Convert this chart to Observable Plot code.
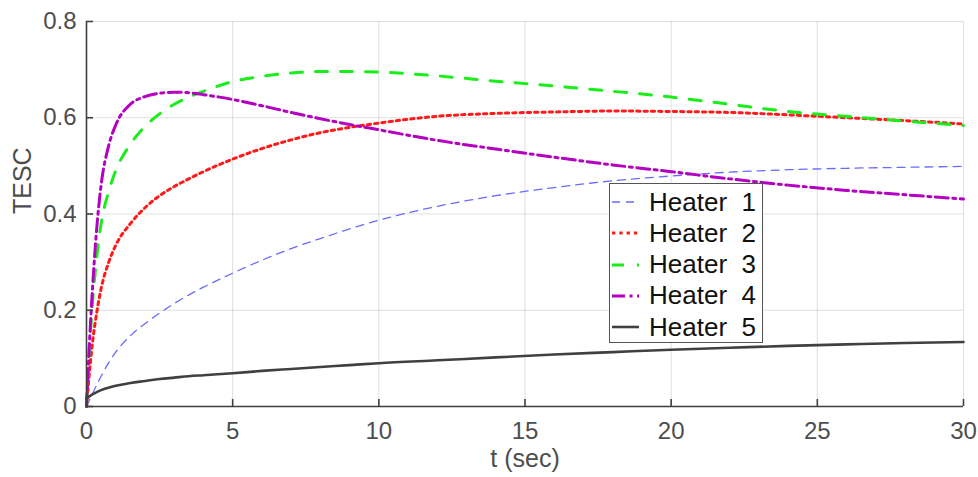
<!DOCTYPE html>
<html><head><meta charset="utf-8">
<script src="https://cdn.jsdelivr.net/npm/d3@7"></script>
<script src="https://cdn.jsdelivr.net/npm/@observablehq/plot@0.6"></script>
<style>
html,body{margin:0;padding:0;background:#fff;}
#wrap{position:relative;width:978px;height:477px;}
#legend{position:absolute;left:609px;top:183px;width:154px;height:160px;border:1px solid #555;background:#fff;box-sizing:border-box;font-family:"Liberation Sans",Arial,sans-serif;font-size:26px;color:#111;}
.row{position:absolute;left:0;height:30px;display:flex;align-items:center;white-space:pre;}
.row svg{display:block;margin-left:2px;margin-right:10px;}
</style></head><body><div id="wrap"><div id="legend"></div></div>
<script>
const t =       [0,    0.1,  0.2,  0.35, 0.5,  0.75, 1,    1.5,  2,    2.5,  3,    3.5,  4,    5,    6,    7,    8,    9,    10,   12,   14,   16,   18,   20,   22,   24,   26,   28,   30];
const heater1 = [0,    0.013,0.026,0.045,0.063,0.09, 0.113,0.147,0.172,0.194,0.214,0.232,0.248,0.277,0.304,0.328,0.349,0.369,0.387,0.416,0.438,0.455,0.469,0.479,0.487,0.492,0.495,0.497,0.499];
const heater2 = [0,    0.07, 0.13, 0.195,0.245,0.298,0.335,0.38, 0.413,0.438,0.457,0.473,0.488,0.514,0.536,0.554,0.569,0.58, 0.589,0.603,0.609,0.612,0.614,0.613,0.611,0.606,0.6,  0.594,0.587];
const heater3 = [0,    0.12, 0.21, 0.31, 0.38, 0.445,0.49, 0.545,0.582,0.608,0.628,0.643,0.655,0.675,0.686,0.693,0.696,0.696,0.695,0.687,0.676,0.666,0.655,0.643,0.628,0.613,0.603,0.593,0.584];
const heater4 = [0,    0.13, 0.24, 0.37, 0.46, 0.54, 0.585,0.628,0.644,0.651,0.653,0.652,0.648,0.638,0.625,0.611,0.598,0.586,0.575,0.553,0.535,0.518,0.502,0.488,0.473,0.46, 0.449,0.44, 0.431];
const heater5 = [0.017,0.021,0.025,0.03, 0.034,0.039,0.043,0.049,0.053,0.057,0.06, 0.063,0.065,0.069,0.074,0.078,0.082,0.086,0.09, 0.096,0.102,0.108,0.113,0.118,0.122,0.126,0.129,0.132,0.134];
const names = ["Heater  1","Heater  2","Heater  3","Heater  4","Heater  5"];
const xTicks = [0,5,10,15,20,25,30];
const xTickLabels = ["0","5","10","15","20","25","30"];
const yTicks = [0,0.2,0.4,0.6,0.8];
const yTickLabels = ["0","0.2","0.4","0.6","0.8"];

const series = [heater1,heater2,heater3,heater4,heater5];
const styles = [
  {stroke:"#6a6aff", strokeWidth:1.3, strokeDasharray:"8,6"},
  {stroke:"#ff1a1a", strokeWidth:3, strokeDasharray:"3.3,4"},
  {stroke:"#1aee1a", strokeWidth:3, strokeDasharray:"12,13"},
  {stroke:"#b400c0", strokeWidth:3, strokeDasharray:"13,4.5,3,4.5"},
  {stroke:"#404040", strokeWidth:2.6}
];
const rows = series.map(s => t.map((tt,i)=>({t:tt, v:s[i]})));

const W = 978, H = 477, mL = 86, mR = 15, mT = 21, mB = 71;
const tickPx = 7;
const xTickLen = tickPx / (H - mT - mB) * 0.8;   // tick length in y units
const yTickLen = tickPx / (W - mL - mR) * 30;    // tick length in x units

const chart = Plot.plot({
  width:W, height:H,
  marginLeft:mL, marginRight:mR, marginTop:mT, marginBottom:mB,
  style:{fontFamily:'"Liberation Sans", Arial, sans-serif', fontSize:"24px", color:"#4d4d4d", background:"#fff"},
  x:{domain:[0,30]},
  y:{domain:[0,0.8]},
  marks:[
    Plot.gridX(xTicks, {stroke:"#000", strokeOpacity:0.13, strokeWidth:1}),
    Plot.gridY(yTicks, {stroke:"#000", strokeOpacity:0.13, strokeWidth:1}),
    ...rows.map((r,k)=>Plot.line(r, {x:"t", y:"v", curve:"monotone-x", ...styles[k]})),
    Plot.ruleY([0], {stroke:"#404040", strokeWidth:1.6}),
    Plot.ruleX([0], {stroke:"#404040", strokeWidth:1.6}),
    Plot.ruleX(xTicks, {x:d=>d, y1:0, y2:xTickLen, stroke:"#404040", strokeWidth:1.6}),
    Plot.ruleY(yTicks, {y:d=>d, x1:0, x2:yTickLen, stroke:"#404040", strokeWidth:1.6}),
    Plot.axisX({ticks:xTicks, tickSize:0, tickPadding:15, tickFormat:d=>xTickLabels[xTicks.indexOf(d)], label:null, fill:"#4d4d4d"}),
    Plot.axisY({ticks:yTicks, tickSize:0, tickPadding:10, tickFormat:d=>yTickLabels[yTicks.indexOf(d)], label:null, fill:"#4d4d4d"}),
    Plot.text(["t (sec)"], {frameAnchor:"bottom", dy:60, fill:"#4d4d4d", fontSize:25}),
    Plot.text(["TESC"], {frameAnchor:"left", dx:-64, rotate:-90, fill:"#4d4d4d", fontSize:25})
  ]
});
const wrap = document.getElementById("wrap");
wrap.insertBefore(chart, wrap.firstChild);

const legend = document.getElementById("legend");
names.forEach((n,k)=>{
  const row = document.createElement("div");
  row.className = "row";
  row.style.top = (3 + k*31.3) + "px";
  const st = styles[k];
  row.innerHTML = `<svg width="27" height="10"><line x1="0" y1="5" x2="27" y2="5" stroke="${st.stroke}" stroke-width="${st.strokeWidth}" ${st.strokeDasharray?`stroke-dasharray="${st.strokeDasharray}"`:""}/></svg><span>${n}</span>`;
  legend.appendChild(row);
});
</script>
</body></html>
